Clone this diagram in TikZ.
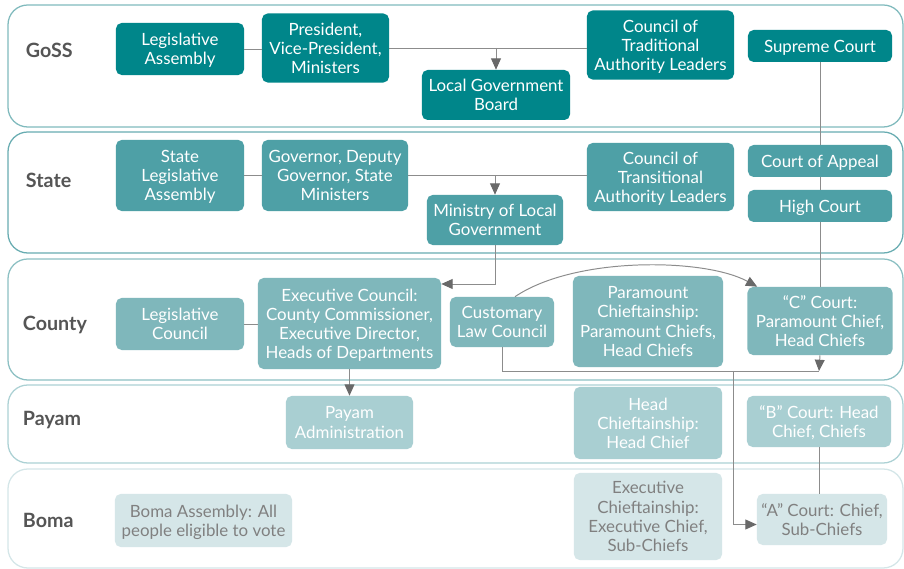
\documentclass[tikz,border=0pt]{standalone}
\usepackage{fontspec}
\setmainfont{Lato}
\usetikzlibrary{arrows.meta}

\definecolor{gossfill}{RGB}{0,134,138}
\definecolor{statefill}{RGB}{78,160,166}
\definecolor{countyfill}{RGB}{127,183,187}
\definecolor{payamfill}{RGB}{169,207,210}
\definecolor{bomafill}{RGB}{213,230,232}
\definecolor{gossline}{RGB}{128,186,189}
\definecolor{stateline}{RGB}{104,172,177}
\definecolor{countyline}{RGB}{140,192,195}
\definecolor{payamline}{RGB}{172,209,212}
\definecolor{bomaline}{RGB}{212,230,232}
\definecolor{tiertext}{RGB}{85,85,85}
\definecolor{bomatext}{RGB}{128,128,128}
\definecolor{linkgray}{RGB}{140,140,140}
\definecolor{tipgray}{RGB}{105,105,105}

\tikzset{
  unit/.style={rounded corners=4pt, align=center, inner sep=0pt, text=white,
    text depth=0pt, font=\fontsize{12}{13.6}\selectfont},
  goss/.style={unit, fill=gossfill},
  state/.style={unit, fill=statefill},
  county/.style={unit, fill=countyfill},
  payam/.style={unit, fill=payamfill},
  boma/.style={unit, fill=bomafill, text=bomatext},
  band/.style={rounded corners=14pt, line width=0.9pt, fill=white},
  tier/.style={anchor=west, text=tiertext, font=\bfseries\fontsize{14}{16}\selectfont},
  link/.style={draw=linkgray, line width=0.7pt},
  >={Triangle[width=7pt,length=8pt,fill=tipgray,color=tipgray]},
}

\begin{document}
\begin{tikzpicture}[x=0.025cm,y=-0.025cm]
\useasboundingbox (0,0) rectangle (904,569);

% levels
\draw[band, draw=gossline] (8,5) rectangle (903,127);
\draw[band, draw=stateline] (8,132) rectangle (903,253);
\draw[band, draw=countyline] (8,259) rectangle (903,380);
\draw[band, draw=payamline] (8,385) rectangle (903,463);
\draw[band, draw=bomaline] (8,469) rectangle (903,568);

\node[tier] (tgoss) at (21,50) {GoSS};
\node[tier] (tstate) at (21,180) {State};
\node[tier] (tcounty) at (18,325) {County};
\node[tier] (tpayam) at (18,420) {Payam};
\node[tier] (tboma) at (18,520) {Boma};

% GoSS
\node[goss, minimum width=3.2cm, minimum height=1.3cm] (gla) at (180,49) {Legislative\\Assembly};
\node[goss, minimum width=3.175cm, minimum height=1.725cm] (gpres) at (325.5,48) {President,\\Vice-President,\\Ministers};
\node[goss, minimum width=3.7cm, minimum height=1.25cm] (glgb) at (496,95) {Local Government\\Board};
\node[goss, minimum width=3.675cm, minimum height=1.725cm] (gctal) at (660.5,45) {Council of\\Traditional\\Authority Leaders};
\node[goss, minimum width=3.6cm, minimum height=0.8cm] (gsc) at (820,46) {Supreme Court};

% State
\node[state, minimum width=3.2cm, minimum height=1.775cm] (sla) at (180,175.5) {State\\Legislative\\Assembly};
\node[state, minimum width=3.65cm, minimum height=1.775cm] (sgov) at (335,175.5) {Governor, Deputy\\Governor, State\\Ministers};
\node[state, minimum width=3.4cm, minimum height=1.25cm] (smlg) at (495,220) {Ministry of Local\\Government};
\node[state, minimum width=3.675cm, minimum height=1.7cm] (sctal) at (660.5,177) {Council of\\Transitional\\Authority Leaders};
\node[state, minimum width=3.6cm, minimum height=0.8cm] (sca) at (820,161) {Court of Appeal};
\node[state, minimum width=3.6cm, minimum height=0.8cm] (shc) at (820,206) {High Court};

% County
\node[county, minimum width=3.2cm, minimum height=1.3cm] (clc) at (180,324) {Legislative\\Council};
\node[county, minimum width=4.575cm, minimum height=2.275cm] (cec) at (349.5,323.5) {Executive Council:\\County Commissioner,\\Executive Director,\\Heads of Departments};
\node[county, minimum width=2.6cm, minimum height=1.25cm] (ccl) at (502,322) {Customary\\Law Council};
\node[county, minimum width=3.75cm, minimum height=2.275cm] (cpc) at (648,321.5) {Paramount\\Chieftainship:\\Paramount Chiefs,\\Head Chiefs};
\node[county, minimum width=3.625cm, minimum height=1.7cm] (ccc) at (820,321) {“C” Court:\\Paramount Chief,\\Head Chiefs};

% Payam
\node[payam, minimum width=3.175cm, minimum height=1.325cm] (ppa) at (349.5,422.5) {Payam\\Administration};
\node[payam, minimum width=3.7cm, minimum height=1.8cm] (phc) at (648,423) {Head\\Chieftainship:\\Head Chief};
\node[payam, minimum width=3.6cm, minimum height=1.275cm] (pbc) at (819,421.5) {“B” Court: Head\\Chief, Chiefs};

% Boma
\node[boma, minimum width=4.425cm, minimum height=1.325cm] (bba) at (203.5,520.5) {Boma Assembly: All\\people eligible to vote};
\node[boma, minimum width=3.7cm, minimum height=2.175cm] (bec) at (648,516.5) {Executive\\Chieftainship:\\Executive Chief,\\Sub-Chiefs};
\node[boma, minimum width=3.25cm, minimum height=1.275cm] (bac) at (822,519.5) {“A” Court: Chief,\\Sub-Chiefs};

% links
\draw[link] (gla.east) -- (gla.east -| gpres.west);
\draw[link] (gpres.east) -- (gpres.east -| gctal.west);
\draw[link, ->] (glgb.north |- gpres.east) -- (glgb.north);
\draw[link] (gsc.south) -- (sca.north);
\draw[link] (sca.south) -- (shc.north);
\draw[link] (shc.south) -- (ccc.north);

\draw[link] (sla.east) -- (sla.east -| sgov.west);
\draw[link] (sgov.east) -- (sgov.east -| sctal.west);
\draw[link, ->] (smlg.north |- sgov.east) -- (smlg.north);
\coordinate (cbend) at (495,284);
\draw[link, ->] (smlg.south) -- (cbend) -- (cbend -| cec.east);

\draw[link] (clc.east) -- (clc.east -| cec.west);
\draw[link, ->] ([xshift=0.325cm]ccl.north) .. controls (575,256) and (705,258) .. ([xshift=0.25cm]ccc.north west);
\coordinate (cjoin) at (819,371);
\coordinate (cdrop) at (733,371);
\draw[link] (ccl.south) |- (cjoin);
\draw[link, ->] (ccc.south) -- (cjoin);
\draw[link, ->] (cdrop) |- ([yshift=-0.125cm]bac.west);
\draw[link, ->] (cec.south) -- (cec.south |- ppa.north);
\draw[link] (pbc.south) -- (pbc.south |- bac.north);
\end{tikzpicture}
\end{document}
